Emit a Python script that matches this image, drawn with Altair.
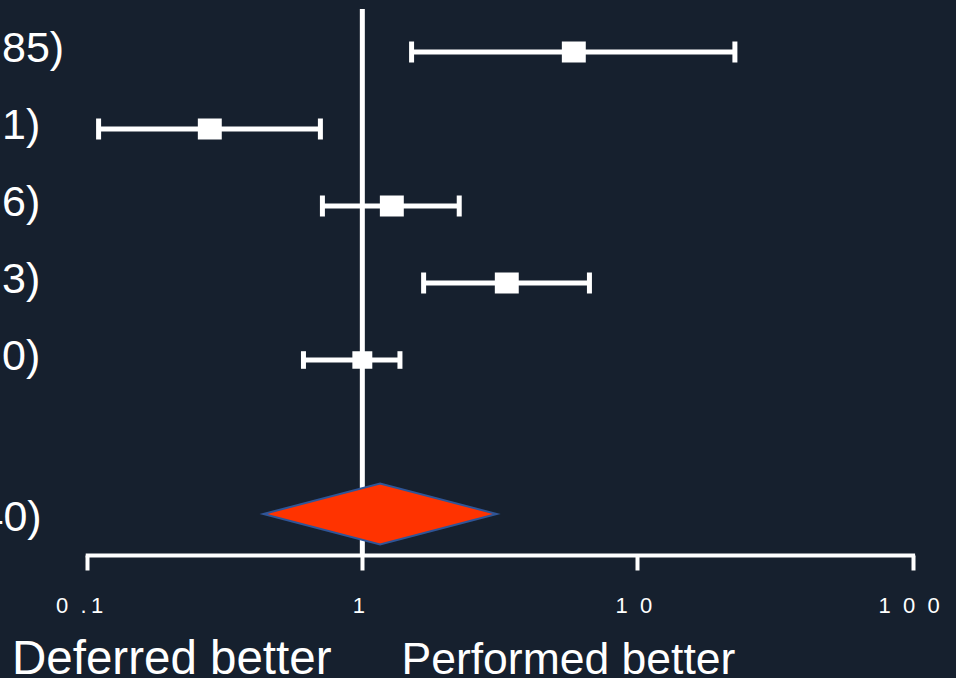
import altair as alt
import pandas as pd

# Individual studies: odds ratio with 95% CI
rows = [0, 1, 2, 3, 4]
estimates = [5.87, 0.279, 1.28, 3.35, 1.00]
lower = [1.51, 0.110, 0.716, 1.67, 0.611]
upper = [22.6, 0.704, 2.25, 6.69, 1.37]
row_labels = ["85)", "1)", "6)", "3)", "0)"]

# Pooled estimate
pooled_row = 6
pooled_est = 1.16
pooled_lo = 0.437
pooled_hi = 3.08
pooled_label = "40)"

# Log axis ticks
tick_values = [0.1, 1, 10, 100]
tick_labels = ["0\u2007.\u20091", "1", "1\u20070", "1\u20070\u20070"]

BG = "#16202e"
WHITE = "#ffffff"
FONT = "Liberation Sans"

studies = pd.DataFrame({
    "row": rows, "est": estimates, "lo": lower, "hi": upper, "label": row_labels,
})

half_h = 0.396  # diamond half-height in row units
diamond = pd.DataFrame({
    "x": [pooled_lo, pooled_est, pooled_hi],
    "top": [pooled_row, pooled_row - half_h, pooled_row],
    "bot": [pooled_row, pooled_row + half_h, pooled_row],
})
pooled_text = pd.DataFrame({"row": [pooled_row], "label": [pooled_label]})

# nested ternary for the spaced tick labels
label_expr = "'" + tick_labels[-1] + "'"
for v, t in reversed(list(zip(tick_values[:-1], tick_labels[:-1]))):
    label_expr = f"datum.value < {v * 5} ? '{t}' : " + label_expr

xscale = alt.Scale(type="log", domain=[0.1, 100], range=[87.2, 912.6])
yscale = alt.Scale(domain=[0, 6], range=[43, 505])

xaxis = alt.Axis(
    values=tick_values,
    labelExpr=label_expr,
    grid=False,
    title=None,
    domainColor=WHITE,
    domainWidth=4,
    domainCap="square",
    tickColor=WHITE,
    tickWidth=4,
    tickSize=15,
    labelColor=WHITE,
    labelFont=FONT,
    labelFontSize=22,
    labelPadding=25,
    labelFlush=False,
    labelOverlap=False,
    labelOffset={"condition": {"test": "datum.value < 0.5", "value": -8}, "value": -4},
)

ref = alt.Chart(pd.DataFrame({"v": [1]})).mark_rule(
    color=WHITE, strokeWidth=5
).encode(x=alt.X("v:Q", scale=xscale, axis=xaxis))

base = alt.Chart(studies)

ci = base.mark_rule(color=WHITE, strokeWidth=5).encode(
    x=alt.X("lo:Q", scale=xscale),
    x2="hi:Q",
    y=alt.Y("row:Q", scale=yscale, axis=None),
)

cap_size = alt.condition("datum.row == 4", alt.value(17.6), alt.value(21))
cap_lo = base.mark_tick(orient="vertical", color=WHITE, thickness=5, opacity=1).encode(
    x=alt.X("lo:Q", scale=xscale),
    y=alt.Y("row:Q", scale=yscale),
    size=cap_size,
)
cap_hi = base.mark_tick(orient="vertical", color=WHITE, thickness=5, opacity=1).encode(
    x=alt.X("hi:Q", scale=xscale),
    y=alt.Y("row:Q", scale=yscale),
    size=cap_size,
)

boxes = base.mark_point(
    shape="M-1.14,-1L1.14,-1L1.14,1L-1.14,1Z",
    filled=True, color=WHITE, opacity=1, strokeWidth=0,
).encode(
    x=alt.X("est:Q", scale=xscale),
    y=alt.Y("row:Q", scale=yscale),
    size=alt.condition("datum.row == 4", alt.value(306), alt.value(441)),
)

diamond_mark = alt.Chart(diamond).mark_area(
    orient="vertical", interpolate="linear",
    color="#ff3300", stroke="#2f5597", strokeWidth=2, opacity=1,
).encode(
    x=alt.X("x:Q", scale=xscale),
    y=alt.Y("top:Q", scale=yscale),
    y2="bot:Q",
)

study_labels = base.mark_text(
    align="left", baseline="alphabetic", dy=10,
    font=FONT, fontSize=43, color=WHITE,
).encode(
    x=alt.value(2),
    y=alt.Y("row:Q", scale=yscale),
    text="label:N",
)

pooled_lab = alt.Chart(pooled_text).mark_text(
    align="left", baseline="alphabetic", dy=17,
    font=FONT, fontSize=43, color=WHITE,
).encode(
    x=alt.value(-20.5),
    y=alt.Y("row:Q", scale=yscale),
    text="label:N",
)

deferred = alt.Chart(pd.DataFrame({"t": ["Deferred better"]})).mark_text(
    align="left", baseline="alphabetic", font=FONT, fontSize=47.5, color=WHITE,
).encode(x=alt.value(12), y=alt.value(665), text="t:N")

performed = alt.Chart(pd.DataFrame({"t": ["Performed better"]})).mark_text(
    align="left", baseline="alphabetic", font=FONT, fontSize=44.5, color=WHITE,
).encode(x=alt.value(401.5), y=alt.value(665), text="t:N")

chart = alt.layer(
    ref, ci, cap_lo, cap_hi, boxes, diamond_mark,
    study_labels, pooled_lab, deferred, performed,
).properties(
    width=956,
    height=546,
    padding={"left": 0, "top": 9, "right": 0, "bottom": 123},
    autosize=alt.AutoSizeParams(type="none"),
    background=BG,
).configure_view(stroke=None)

chart.save("out.html", embed_options={"renderer": "svg", "actions": False})
